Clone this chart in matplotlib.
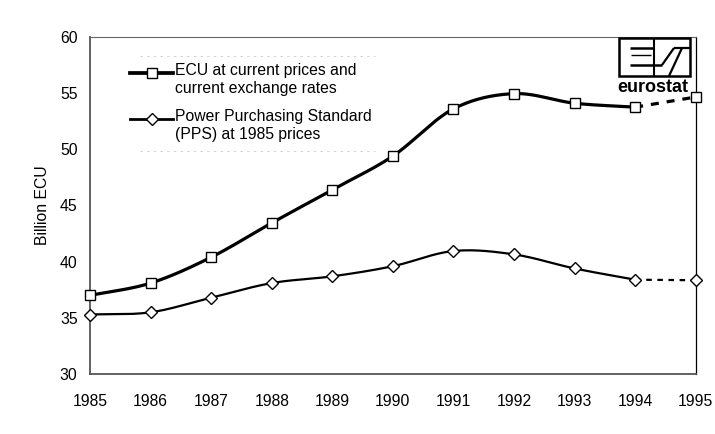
import numpy as np
import matplotlib
matplotlib.use("Agg")
import matplotlib.pyplot as plt

plt.rcParams['font.family'] = ['Liberation Sans', 'DejaVu Sans']

years = [1985, 1986, 1987, 1988, 1989, 1990, 1991, 1992, 1993, 1994, 1995]
ecu_current = [37.0, 38.1, 40.4, 43.45, 46.4, 49.4, 53.6, 54.95, 54.1, 53.75, 54.65]
pps_1985 = [35.3, 35.5, 36.8, 38.1, 38.7, 39.6, 40.95, 40.65, 39.4, 38.4, 38.35]
label_ecu = "ECU at current prices and\ncurrent exchange rates"
label_pps = "Power Purchasing Standard\n(PPS) at 1985 prices"
y_label = "Billion ECU"
y_ticks = [30, 35, 40, 45, 50, 55, 60]

ECU_STYLE = dict(lw=2.3, marker='s', ms=7.8)
PPS_STYLE = dict(lw=1.6, marker='D', ms=6.0)


def smooth(x, y, n=30):
    # Catmull-Rom curve through the data points (as in a "smoothed line" chart)
    x = np.asarray(x, float); y = np.asarray(y, float)
    px = np.concatenate([[2 * x[0] - x[1]], x, [2 * x[-1] - x[-2]]])
    py = np.concatenate([[2 * y[0] - y[1]], y, [2 * y[-1] - y[-2]]])
    xs, ys = [], []
    for i in range(1, len(px) - 2):
        t = np.linspace(0, 1, n, endpoint=(i == len(px) - 3))
        for arr, out in ((px, xs), (py, ys)):
            p0, p1, p2, p3 = arr[i - 1], arr[i], arr[i + 1], arr[i + 2]
            out.append(0.5 * ((2 * p1) + (-p0 + p2) * t + (2 * p0 - 5 * p1 + 4 * p2 - p3) * t ** 2
                              + (-p0 + 3 * p1 - 3 * p2 + p3) * t ** 3))
    return np.concatenate(xs), np.concatenate(ys)


fig = plt.figure(figsize=(7.15, 4.34), dpi=100)
ax = fig.add_axes([0.126, 0.138, 0.847, 0.777])

for data, st in ((ecu_current, ECU_STYLE), (pps_1985, PPS_STYLE)):
    sx, sy = smooth(years[:-1], data[:-1])
    ax.plot(sx, sy, color='black', lw=st['lw'], solid_capstyle='round', zorder=2)
    ax.plot(years[-2:], data[-2:], color='black', lw=st['lw'], ls=(0, (2.5, 2.5)), zorder=2)
    ax.plot(years, data, ls='none', marker=st['marker'], ms=st['ms'], mfc='white',
            mec='black', mew=1.0, zorder=3, clip_on=False)

ax.set_xlim(1985, 1995)
ax.set_ylim(30, 60)
ax.set_xticks(years)
ax.set_yticks(y_ticks)
ax.tick_params(axis='both', labelsize=11.3, length=0)
ax.tick_params(axis='x', pad=14)
ax.tick_params(axis='y', pad=9)
ax.set_ylabel(y_label, fontsize=11.3, labelpad=7)
for s in ('left', 'bottom'):
    ax.spines[s].set_color('#555555')
    ax.spines[s].set_linewidth(1.3)
ax.spines['top'].set_color('#666666')
ax.spines['top'].set_linewidth(0.8)
ax.spines['right'].set_color('black')
ax.spines['right'].set_linewidth(0.9)

# overlay in figure pixel coordinates for legend and logo
ov = fig.add_axes([0, 0, 1, 1], zorder=5)
ov.set_xlim(0, 715)
ov.set_ylim(434, 0)
ov.axis('off')
ov.patch.set_alpha(0)

# legend (hand-drawn, handle aligned with first text line)
for yy, lab, st in ((73, label_ecu, ECU_STYLE), (119, label_pps, PPS_STYLE)):
    ov.plot([130, 173], [yy, yy], color='black', lw=st['lw'] + 0.4)
    ov.plot([151.5], [yy], marker=st['marker'], ms=st['ms'] * 0.95, mfc='white', mec='black', mew=1.0)
    ov.text(175, yy - 9.5, lab, ha='left', va='top', fontsize=11.3, linespacing=1.2)
for yy in (55.5, 150.5):
    ov.plot([140, 375], [yy, yy], color='#cccccc', lw=0.6, ls=(0, (3, 5)))

# eurostat logo
ov.add_patch(plt.Rectangle((618.5, 38), 71.5, 38, fill=False, ec='black', lw=1.8))
logo_lines = [
    ((630, 654), (48, 48), 1.8),
    ((631, 651), (55, 55), 1.0),
    ((630, 662), (65, 65), 1.8),
    ((654, 654), (38, 76), 1.5),
    ((662, 674), (65, 48), 1.6),
    ((674, 690), (48, 48), 1.6),
    ((669, 682), (76, 48), 1.6),
]
for xs, ys, lw in logo_lines:
    ov.plot(xs, ys, color='black', lw=lw, solid_capstyle='butt')
ov.text(653, 88, "eurostat", ha='center', va='center', fontsize=13, fontweight='bold')

fig.savefig("out.png", dpi=100)
